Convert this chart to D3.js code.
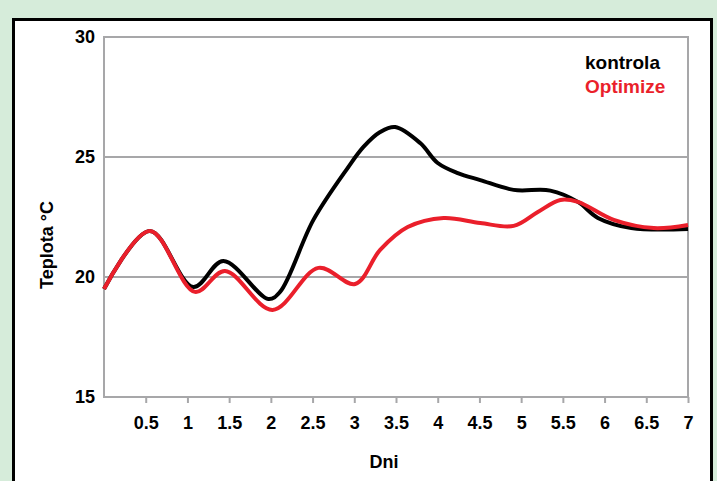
<!DOCTYPE html>
<html>
<head>
<meta charset="utf-8">
<script src="https://cdn.jsdelivr.net/npm/d3@7"></script>
<style>
  html, body { margin: 0; padding: 0; background: #d6ecda; }
  svg { display: block; }
  text { font-family: "Liberation Sans", Arial, sans-serif; font-weight: bold; }
</style>
</head>
<body>
<svg id="chart" width="717" height="481"></svg>
<script>
// ---- data ----
const kontrolaDays = [0, 0.55, 1.07, 1.43, 1.97, 2.11, 2.51, 2.92, 3.11, 3.31, 3.49, 3.79, 4.0, 4.24, 4.51, 4.91, 5.35, 5.68, 5.92, 6.32, 7.0];
const kontrolaTemp = [19.5, 21.92, 19.58, 20.67, 19.08, 19.38, 22.38, 24.54, 25.42, 26.04, 26.25, 25.58, 24.75, 24.33, 24.04, 23.63, 23.6, 23.13, 22.46, 22.04, 22.0];
const optimizeDays = [0, 0.55, 1.09, 1.45, 2.02, 2.57, 3.01, 3.31, 3.64, 4.07, 4.51, 4.91, 5.2, 5.47, 5.68, 6.11, 6.59, 7.0];
const optimizeTemp = [19.5, 21.92, 19.38, 20.25, 18.63, 20.38, 19.71, 21.13, 22.08, 22.46, 22.25, 22.13, 22.71, 23.21, 23.13, 22.38, 22.04, 22.17];
const xTickValues = [0.5, 1, 1.5, 2, 2.5, 3, 3.5, 4, 4.5, 5, 5.5, 6, 6.5, 7];
const xTickLabels = ["0.5", "1", "1.5", "2", "2.5", "3", "3.5", "4", "4.5", "5", "5.5", "6", "6.5", "7"];
const yTickValues = [15, 20, 25, 30];
const seriesNames = ["kontrola", "Optimize"];
const seriesColors = ["#000000", "#ea1f2b"];
const xTitle = "Dni";
const yTitle = "Teplota °C";

// ---- layout ----
const svg = d3.select("#chart");
const plot = { left: 104, right: 688, top: 37, bottom: 397 };

// outer white panel with black frame
svg.append("rect")
  .attr("x", 13.5).attr("y", 19.5)
  .attr("width", 698).attr("height", 470)
  .attr("fill", "#ffffff").attr("stroke", "#000").attr("stroke-width", 3);

const x = d3.scaleLinear().domain([0, 7]).range([plot.left, plot.right]);
const y = d3.scaleLinear().domain([15, 30]).range([plot.bottom, plot.top]);

// gridlines
svg.append("g")
  .selectAll("line")
  .data(yTickValues.filter(v => v > 15 && v < 30))
  .join("line")
  .attr("x1", plot.left).attr("x2", plot.right)
  .attr("y1", d => y(d)).attr("y2", d => y(d))
  .attr("stroke", "#a7a7a9").attr("stroke-width", 2);

// plot border
svg.append("rect")
  .attr("x", plot.left).attr("y", plot.top)
  .attr("width", plot.right - plot.left).attr("height", plot.bottom - plot.top)
  .attr("fill", "none").attr("stroke", "#a7a7a9").attr("stroke-width", 2);

// x axis
const xAxis = d3.axisBottom(x)
  .tickValues(xTickValues)
  .tickFormat((d, i) => xTickLabels[i])
  .tickSize(6).tickPadding(13);
const gx = svg.append("g").attr("transform", `translate(0,${plot.bottom})`).call(xAxis);
gx.select(".domain").remove();
gx.selectAll(".tick line").attr("stroke", "#a7a7a9").attr("stroke-width", 2);
gx.selectAll(".tick text").attr("fill", "#000").style("font-size", "18px")
  .style("font-family", "'Liberation Sans', Arial, sans-serif").style("font-weight", "bold");

// y axis
const yAxis = d3.axisLeft(y).tickValues(yTickValues).tickSize(0).tickPadding(9);
const gy = svg.append("g").attr("transform", `translate(${plot.left},0)`).call(yAxis);
gy.select(".domain").remove();
gy.selectAll(".tick text").attr("fill", "#000").style("font-size", "18px")
  .style("font-family", "'Liberation Sans', Arial, sans-serif").style("font-weight", "bold");

// lines
const line = d3.line()
  .x(d => x(d[0])).y(d => y(d[1]))
  .curve(d3.curveCatmullRom.alpha(0.5));

const kontrola = kontrolaDays.map((d, i) => [d, kontrolaTemp[i]]);
const optimize = optimizeDays.map((d, i) => [d, optimizeTemp[i]]);

svg.append("path").datum(kontrola)
  .attr("d", line).attr("fill", "none")
  .attr("stroke", seriesColors[0]).attr("stroke-width", 4).attr("stroke-linejoin", "round");
svg.append("path").datum(optimize)
  .attr("d", line).attr("fill", "none")
  .attr("stroke", seriesColors[1]).attr("stroke-width", 4).attr("stroke-linejoin", "round");

// legend
const legend = svg.append("g");
seriesNames.forEach((name, i) => {
  legend.append("text")
    .attr("x", 585).attr("y", 69 + i * 24)
    .attr("fill", seriesColors[i])
    .style("font-size", "19px")
    .text(name);
});

// axis titles
svg.append("text")
  .attr("x", 384).attr("y", 468)
  .attr("text-anchor", "middle")
  .style("font-size", "18px")
  .text(xTitle);

svg.append("text")
  .attr("transform", "translate(53,245) rotate(-90)")
  .attr("text-anchor", "middle")
  .style("font-size", "18px")
  .text(yTitle);
</script>
</body>
</html>
